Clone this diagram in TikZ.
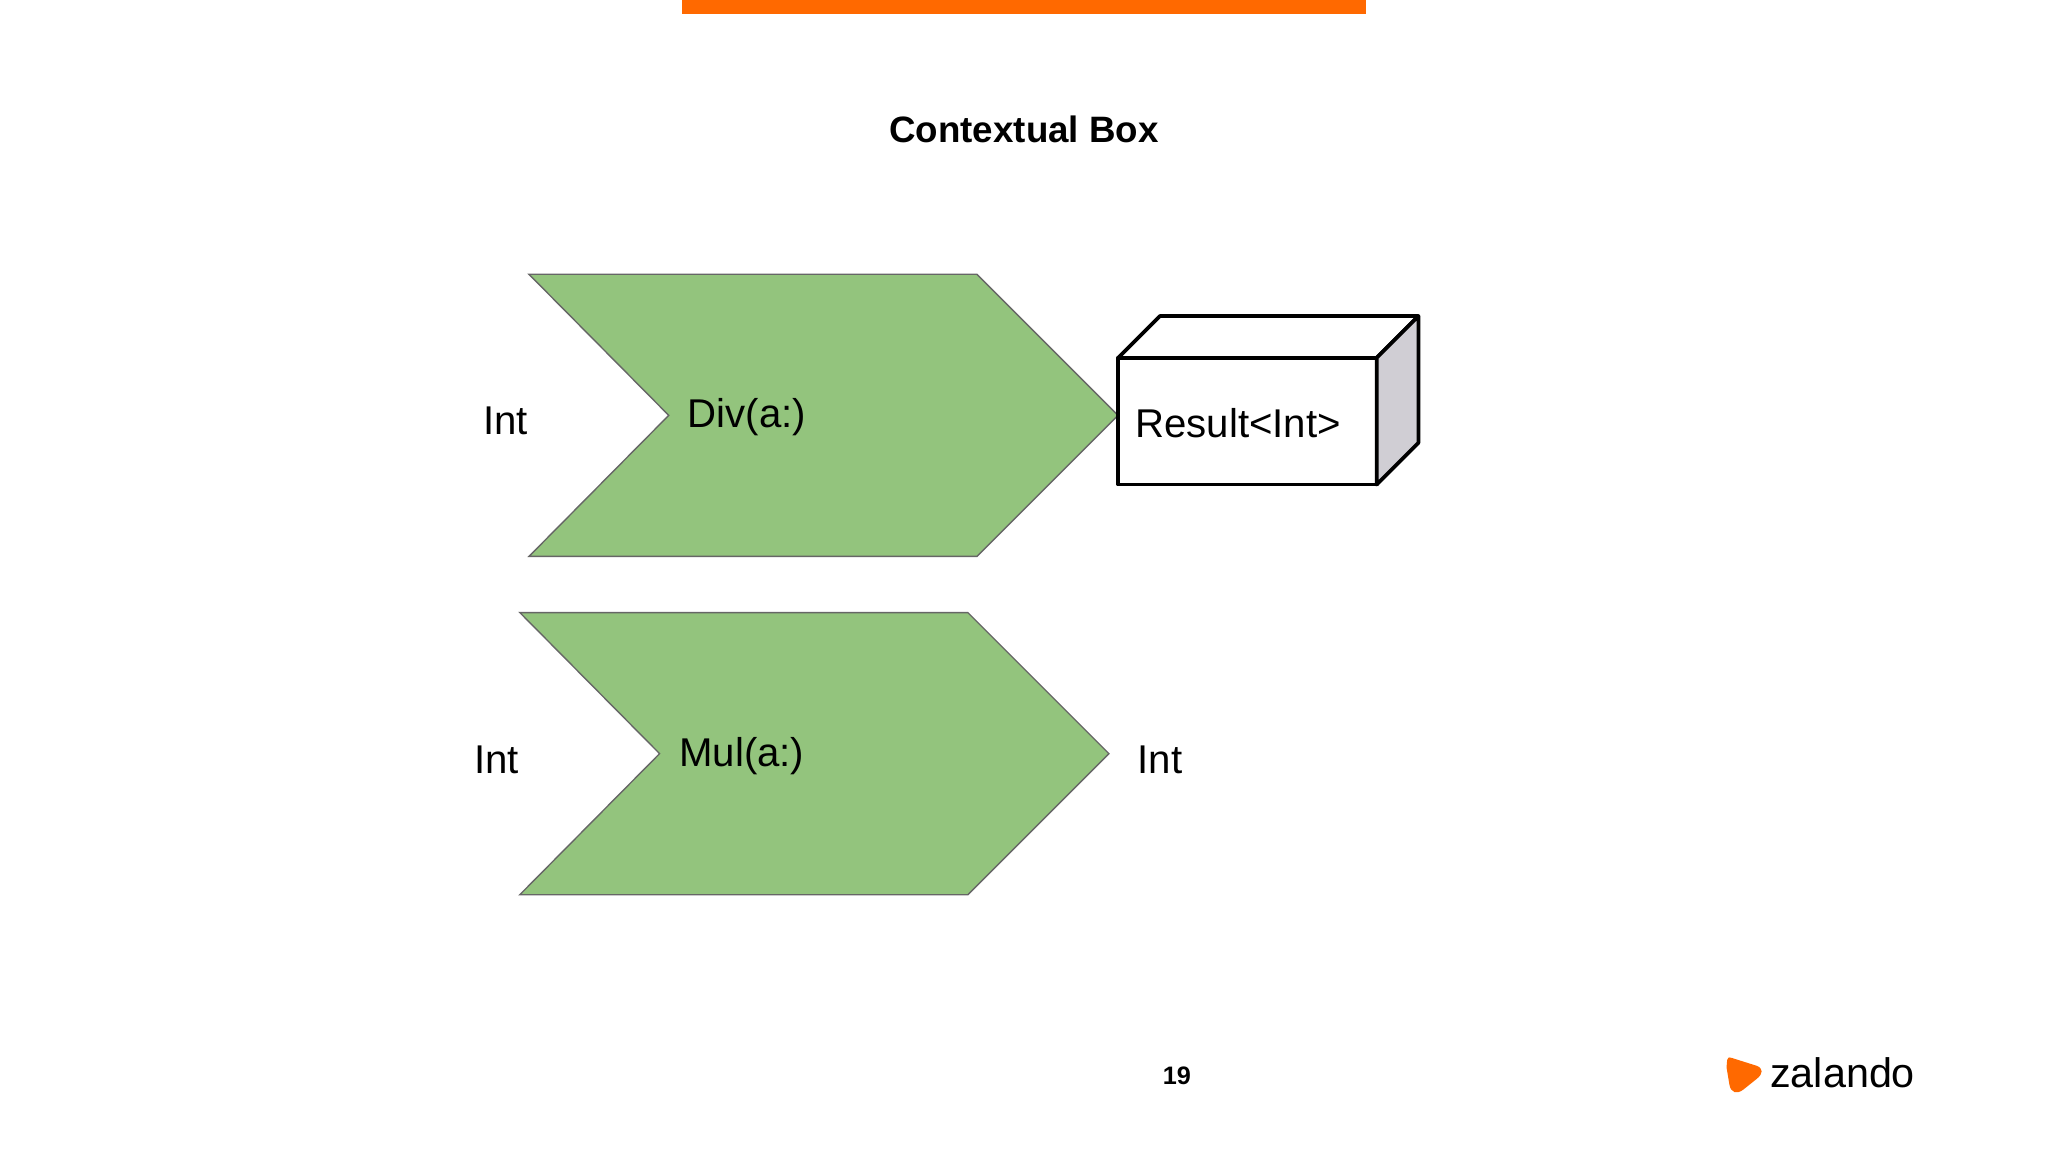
\documentclass[tikz,border=0pt]{standalone}
\usepackage{fontspec}
\setmainfont{Liberation Sans}
\definecolor{zorange}{HTML}{FF6900}
\definecolor{chev}{HTML}{93C47D}
\definecolor{side}{HTML}{D0CED4}
\begin{document}
\begin{tikzpicture}[x=0.02cm,y=-0.02cm,
  chevron/.style={fill=chev,draw=gray!80!black,line width=0.6pt},
  lbl/.style={font=\fontsize{17.5}{21}\selectfont,inner sep=0pt},
  boxline/.style={draw=black,line width=1.6pt,line join=round}]
\useasboundingbox (0,0) rectangle (1568,882);
\fill[white] (0,0) rectangle (1568,882);
\fill[zorange] (522,0) rectangle (1046,11);
\node[font=\bfseries\fontsize{16}{19}\selectfont] (title) at (784,99) {Contextual Box};
% chevrons
\draw[chevron] (405,210) -- (748,210) -- (856,318) -- (748,426) -- (405,426) -- (512,318) -- cycle;
\draw[chevron] (398,469) -- (741,469) -- (849,577) -- (741,685) -- (398,685) -- (505,577) -- cycle;
\node[lbl] (div) at (572,319) {Div(a:)};
\node[lbl] (in1) at (387,322) {Int};
\node[lbl] (mul) at (568,579) {Mul(a:)};
\node[lbl] (in2) at (380,582) {Int};
\node[lbl] (out2) at (888,582) {Int};
% box
\draw[boxline,fill=white] (856,274) rectangle (1054,371);
\draw[boxline,fill=white] (856,274) -- (888,242) -- (1086,242) -- (1054,274) -- cycle;
\draw[boxline,fill=side] (1054,274) -- (1086,242) -- (1086,339) -- (1054,371) -- cycle;
\node[lbl] (res) at (948,324) {Result<Int>};
% footer
\node[font=\bfseries\fontsize{11}{13}\selectfont] (pg) at (901,824) {19};
\fill[zorange] (1326,810) .. controls (1322,808) and (1322,812) .. (1322,818) -- (1324,830) .. controls (1325,837) and (1330,838) .. (1335,834) -- (1345,826) .. controls (1350,822) and (1350,818) .. (1345,816) -- cycle;
\node[font=\fontsize{18}{22}\selectfont,anchor=west,inner sep=0pt] (logo) at (1355,821) {zalando};
\end{tikzpicture}
\end{document}
